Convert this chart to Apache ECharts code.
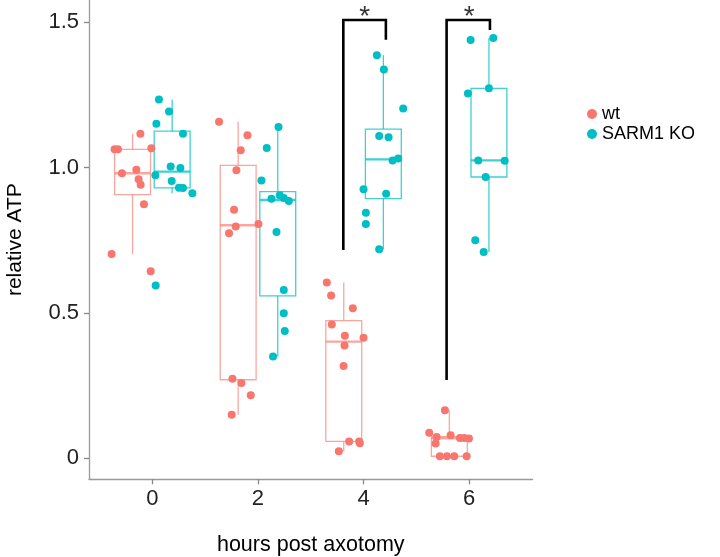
<!DOCTYPE html>
<html><head><meta charset="utf-8">
<script src="https://cdn.jsdelivr.net/npm/echarts@6/dist/echarts.min.js"></script>
<style>html,body{margin:0;padding:0;background:#fff}#c{width:720px;height:557px}</style>
</head><body><div id="c"></div>
<script>
// categories (hours post axotomy) and tick labels
const hours = [0, 2, 4, 6];
const xTickLabels = ['0', '2', '4', '6'];
const yTicks = [0, 0.5, 1.0, 1.5];
const yTickLabels = ['0', '0.5', '1.0', '1.5'];
const groupNames = ['wt', 'SARM1 KO'];
const groupOffset = [-0.375, 0.375];   // dodge offset in hours

// jittered x positions (hours) and relative ATP values
const wt0X = [-0.227, -0.715, -0.652, -0.019, -0.576, -0.303, -0.260, -0.222, -0.159, -0.772, -0.032];
const wt0Y = [1.117, 1.063, 1.063, 1.067, 0.981, 0.993, 0.960, 0.941, 0.874, 0.703, 0.644];
const ko0X = [0.125, 0.315, 0.076, 0.580, 0.347, 0.531, 0.057, 0.366, 0.504, 0.580, 0.758, 0.063];
const ko0Y = [1.235, 1.193, 1.151, 1.117, 1.004, 0.999, 0.974, 0.954, 0.931, 0.930, 0.912, 0.595];

const wt2X = [1.263, 1.801, 1.674, 1.592, 1.547, 1.579, 2.009, 1.452, 1.517, 1.687, 1.864, 1.503];
const wt2Y = [1.158, 1.112, 1.060, 0.991, 0.855, 0.798, 0.806, 0.774, 0.274, 0.259, 0.217, 0.150];
const ko2X = [2.389, 2.167, 2.066, 2.256, 2.413, 2.585, 2.489, 2.351, 2.489, 2.489, 2.508, 2.286];
const ko2Y = [1.140, 1.068, 0.956, 0.893, 0.905, 0.885, 0.896, 0.779, 0.579, 0.499, 0.438, 0.350];

const wt4X = [3.304, 3.386, 3.797, 3.399, 3.646, 4.000, 3.640, 3.621, 3.727, 3.917, 3.930, 3.532];
const wt4Y = [0.605, 0.560, 0.516, 0.460, 0.422, 0.415, 0.388, 0.318, 0.058, 0.058, 0.052, 0.024];
const ko4X = [4.252, 4.385, 4.751, 4.296, 4.474, 4.550, 4.656, 4.000, 4.428, 4.044, 4.044, 4.296];
const ko4Y = [1.387, 1.338, 1.204, 1.109, 1.105, 1.025, 1.032, 0.926, 0.910, 0.845, 0.806, 0.719];

const wt6X = [5.541, 5.244, 5.384, 5.649, 5.365, 5.826, 5.907, 5.996, 5.446, 5.718, 5.953, 5.579];
const wt6Y = [0.165, 0.088, 0.073, 0.079, 0.051, 0.070, 0.070, 0.068, 0.007, 0.007, 0.007, 0.007];
const ko6X = [6.028, 6.457, 5.977, 6.375, 6.172, 6.673, 6.313, 6.116, 6.275];
const ko6Y = [1.439, 1.446, 1.255, 1.273, 1.025, 1.024, 0.968, 0.750, 0.710];

// significance brackets: [left x, left bottom, top, right x, right bottom]
const bracket4 = [3.617, 0.717, 1.508, 4.423, 1.440];
const bracket6 = [5.573, 0.269, 1.508, 6.394, 1.474];
const starPos = [[4.02, 1.508], [6.0, 1.508]];

const wtX = [wt0X, wt2X, wt4X, wt6X], wtY = [wt0Y, wt2Y, wt4Y, wt6Y];
const koX = [ko0X, ko2X, ko4X, ko6X], koY = [ko0Y, ko2Y, ko4Y, ko6Y];
const colors = ['#F8766D', '#00BFC4'];
const boxColors = ['rgba(248,118,109,0.65)', 'rgba(0,191,196,0.75)'];

function quantile(sorted, p) {
  const h = (sorted.length - 1) * p, lo = Math.floor(h), hi = Math.ceil(h);
  return sorted[lo] + (sorted[hi] - sorted[lo]) * (h - lo);
}
function boxStats(vals, x) {
  const s = vals.slice().sort((a, b) => a - b);
  const q1 = quantile(s, 0.25), med = quantile(s, 0.5), q3 = quantile(s, 0.75);
  const iqr = q3 - q1;
  const lo = s.find(v => v >= q1 - 1.5 * iqr);
  const hi = s.slice().reverse().find(v => v <= q3 + 1.5 * iqr);
  return [x, lo, q1, med, q3, hi];
}
function pts(X, Y) { const r = []; X.forEach((arr, i) => arr.forEach((x, j) => r.push([x, Y[i][j]]))); return r; }

const boxData = [[], []];
hours.forEach((h, i) => {
  boxData[0].push(boxStats(wtY[i], h + groupOffset[0]));
  boxData[1].push(boxStats(koY[i], h + groupOffset[1]));
});

function boxSeries(k) {
  return {
    type: 'custom', silent: true, z: 1,
    data: boxData[k],
    encode: { x: 0, y: [1, 2, 3, 4, 5] },
    renderItem(params, api) {
      const x = api.value(0);
      const pMin = api.coord([x, api.value(1)]);
      const pQ1 = api.coord([x, api.value(2)]);
      const pMed = api.coord([x, api.value(3)]);
      const pQ3 = api.coord([x, api.value(4)]);
      const pMax = api.coord([x, api.value(5)]);
      const half = api.size([0.68, 0])[0] / 2;
      const st = { stroke: boxColors[k], lineWidth: 1.3, fill: 'none' };
      return {
        type: 'group', children: [
          { type: 'line', shape: { x1: pMin[0], y1: pMin[1], x2: pQ1[0], y2: pQ1[1] }, style: st },
          { type: 'line', shape: { x1: pQ3[0], y1: pQ3[1], x2: pMax[0], y2: pMax[1] }, style: st },
          { type: 'rect', shape: { x: pQ3[0] - half, y: pQ3[1], width: half * 2, height: pQ1[1] - pQ3[1] }, style: st },
          { type: 'line', shape: { x1: pMed[0] - half, y1: pMed[1], x2: pMed[0] + half, y2: pMed[1] }, style: { stroke: boxColors[k], lineWidth: 2.4 } }
        ]
      };
    }
  };
}
function bracketSeries(b) {
  return {
    type: 'line', silent: true, symbol: 'none', z: 3,
    data: [[b[0], b[1]], [b[0], b[2]], [b[3], b[2]], [b[3], b[4]]],
    lineStyle: { color: '#000', width: 2.6, join: 'miter' }, animation: false
  };
}

const chart = echarts.init(document.getElementById('c'), null, { renderer: 'canvas' });
chart.setOption({
  animation: false,
  backgroundColor: '#fff',
  textStyle: { fontFamily: 'Liberation Sans, Arial, sans-serif' },
  grid: { left: 89, right: 187.5, top: 0, bottom: 77.7, containLabel: false, outerBoundsMode: 'none' },
  legend: {
    data: groupNames, orient: 'vertical', left: 582, top: 100,
    icon: 'circle', itemWidth: 10, itemHeight: 10, itemGap: 2,
    textStyle: { fontSize: 18, color: '#000', lineHeight: 16 }
  },
  xAxis: {
    type: 'value', min: -1.2, max: 7.2,
    name: 'hours post axotomy', nameLocation: 'middle', nameGap: 55, nameMoveOverlap: false,
    nameTextStyle: { fontSize: 21.5, color: '#000' },
    axisLine: { onZero: false, lineStyle: { color: '#999', width: 1.3 } },
    axisTick: { customValues: hours, length: 5, lineStyle: { color: '#888', width: 1.3 } },
    axisLabel: { customValues: hours, formatter: v => xTickLabels[hours.indexOf(v)], fontSize: 22, color: '#222', margin: 9 },
    splitLine: { show: false }
  },
  yAxis: {
    type: 'value', min: -0.0723, max: 1.577,
    name: 'relative ATP', nameLocation: 'middle', nameGap: 63, nameRotate: 90, nameMoveOverlap: false,
    nameTextStyle: { fontSize: 21, color: '#000' },
    axisLine: { show: true, onZero: false, lineStyle: { color: '#999', width: 1.3 } },
    axisTick: { show: true, customValues: yTicks, length: 5, lineStyle: { color: '#888', width: 1.3 } },
    axisLabel: { customValues: yTicks, formatter: v => yTickLabels[yTicks.indexOf(v)], fontSize: 22, color: '#222', margin: 10 },
    splitLine: { show: false }
  },
  series: [
    boxSeries(0), boxSeries(1),
    { name: 'wt', type: 'scatter', z: 2, symbolSize: 8, data: pts(wtX, wtY), itemStyle: { color: colors[0], opacity: 1 } },
    { name: 'SARM1 KO', type: 'scatter', z: 2, symbolSize: 8, data: pts(koX, koY), itemStyle: { color: colors[1], opacity: 1 } },
    bracketSeries(bracket4), bracketSeries(bracket6),
    { type: 'scatter', silent: true, z: 4, symbolSize: 1, itemStyle: { color: 'rgba(0,0,0,0)' }, data: starPos,
      label: { show: true, formatter: '*', position: 'top', distance: -12, fontSize: 28, color: '#000' } }
  ]
});
</script></body></html>
